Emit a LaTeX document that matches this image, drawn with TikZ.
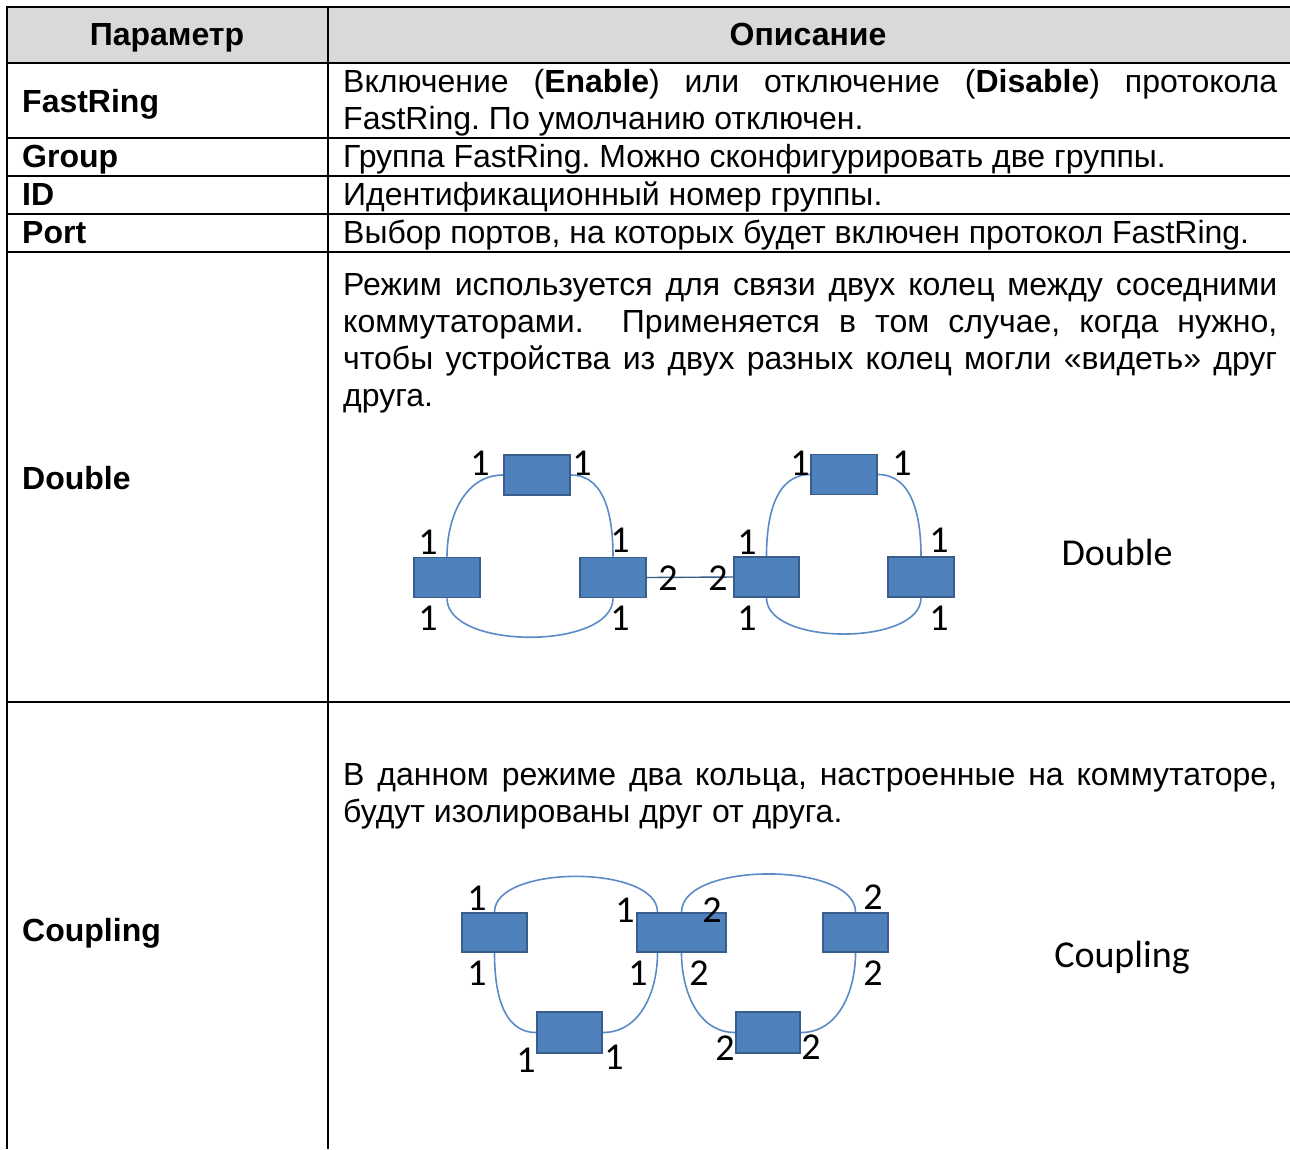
\documentclass[tikz,border=0pt]{standalone}
\usepackage{fontspec}
\setmainfont{Liberation Sans}
\newfontfamily\calibrifont{Carlito}
\usepackage{xcolor}
\definecolor{colorHead}{HTML}{D9D9D9}
\definecolor{colorBoxFill}{HTML}{4F81BD}
\definecolor{colorBoxLine}{HTML}{385D8A}
\definecolor{colorLink}{HTML}{5B8BC6}
\usepackage{tikz}
\hyphenpenalty=10000
\frenchspacing

\begin{document}
\begin{tikzpicture}[x=1pt, y=-1pt,
  rule/.style={line width=1.8pt, black},
  cell/.style={inner sep=0pt, anchor=base west, font=\fontsize{32}{37}\selectfont},
  param/.style={cell, font=\fontsize{32}{37}\selectfont\bfseries},
  desc/.style={cell, text width=934pt, align=justify},
  switch/.style={draw=colorBoxLine, fill=colorBoxFill, line width=1.8pt, minimum width=#1, minimum height=40pt, inner sep=0pt},
  switch/.default=66pt,
  link/.style={draw=colorLink, line width=1.6pt},
  port/.style={inner sep=0pt, font=\calibrifont\fontsize{38}{38}\selectfont},
  mode/.style={inner sep=0pt, anchor=base, font=\calibrifont\fontsize{38}{38}\selectfont}]
\useasboundingbox (0,0) rectangle (1290,1149);
% table frame
\fill[colorHead] (7,7) rectangle (1290,63);
\draw[rule] (7,1149) -- (7,7) -- (1290,7);
\draw[rule] (328,7) -- (328,1149);
\foreach \y in {63,138,176,214,252,702}
  \draw[rule] (7,\y) -- (1290,\y);
% header
\node[param, anchor=base] (h1) at (167,45) {Параметр};
\node[param, anchor=base] (h2) at (808,45) {Описание};
% parameter names
\node[param] (pFast) at (22,112) {FastRing};
\node[param] (pGroup) at (22,167) {Group};
\node[param] (pId) at (22,205) {ID};
\node[param] (pPort) at (22,243) {Port};
\node[param] (pDouble) at (22,489) {Double};
\node[param] (pCoupling) at (22,941) {Coupling};
% descriptions
\node[desc] (dFast) at (343,92) {Включение (\textbf{Enable}) или отключение (\textbf{Disable}) протокола\linebreak FastRing. По умолчанию отключен.};
\node[cell] (dGroup) at (343,167) {Группа FastRing. Можно сконфигурировать две группы.};
\node[cell] (dId) at (343,205) {Идентификационный номер группы.};
\node[cell] (dPort) at (343,243) {Выбор портов, на которых будет включен протокол FastRing.};
\node[desc] (dDouble) at (343,295) {Режим используется для связи двух колец между соседними\linebreak коммутаторами.\ \ Применяется в том случае, когда нужно,\linebreak чтобы устройства из двух разных колец могли «видеть» друг\linebreak друга.};
\node[desc] (dCoupling) at (343,785) {В данном режиме два кольца, настроенные на коммутаторе,\linebreak будут изолированы друг от друга.};

% Double: two rings joined by one link
\node[switch] (d1) at (537,475) {};
\node[switch] (d2) at (447,577.5) {};
\node[switch] (d3) at (613,577.5) {};
\node[switch, minimum width=65pt] (d4) at (766.5,577) {};
\node[switch] (d5) at (844,474.5) {};
\node[switch] (d6) at (921,577) {};
\draw[link] (d1.west) to[out=180, in=90] (d2.north);
\draw[link] (d1.east) to[out=0, in=90] (d3.north);
\draw[link] (d2.south) to[out=-90, in=-90, looseness=0.8] (d3.south);
\draw[draw=colorBoxLine, line width=1.4pt] (d3.east) -- (d4.west);
\draw[link] (d5.west) to[out=180, in=90] (d4.north);
\draw[link] (d5.east) to[out=0, in=90] (d6.north);
\draw[link] (d4.south) to[out=-90, in=-90, looseness=0.8] (d6.south);
\node[port] at (480,463) {1};
\node[port] at (582,463) {1};
\node[port] at (428,542) {1};
\node[port] at (428,618) {1};
\node[port] at (620,540) {1};
\node[port] at (620,618) {1};
\node[port] at (668,578) {2};
\node[port] at (718,578) {2};
\node[port] at (747,542) {1};
\node[port] at (747,618) {1};
\node[port] at (800,463) {1};
\node[port] at (902,463) {1};
\node[port] at (939,540) {1};
\node[port] at (939,618) {1};
\node[mode] (mDouble) at (1117,565) {Double};

% Coupling: two rings on one switch
\node[switch, minimum width=65pt, minimum height=39pt] (c1) at (494.5,932.5) {};
\node[switch, minimum width=89pt, minimum height=39pt] (c2) at (681.5,932.5) {};
\node[switch, minimum width=65pt, minimum height=39pt] (c3) at (855.5,932.5) {};
\node[switch, minimum width=65pt, minimum height=41pt] (c4) at (569.5,1032.5) {};
\node[switch, minimum width=64pt, minimum height=41pt] (c5) at (768,1032.5) {};
\draw[link] (c1.north) to[out=90, in=90, looseness=0.75] ([xshift=-24pt]c2.north);
\draw[link] (c2.north) to[out=90, in=90, looseness=0.75] (c3.north);
\draw[link] (c1.south) to[out=-90, in=180] (c4.west);
\draw[link] ([xshift=-24pt]c2.south) to[out=-90, in=0] (c4.east);
\draw[link] (c2.south) to[out=-90, in=180] (c5.west);
\draw[link] (c3.south) to[out=-90, in=0] (c5.east);
\node[port] at (477,898) {1};
\node[port] at (477,973) {1};
\node[port] at (625,910) {1};
\node[port] at (712,910) {2};
\node[port] at (638,973) {1};
\node[port] at (699,973) {2};
\node[port] at (873,897) {2};
\node[port] at (873,973) {2};
\node[port] at (526,1060) {1};
\node[port] at (614,1057) {1};
\node[port] at (725,1048) {2};
\node[port] at (811,1047) {2};
\node[mode] (mCoupling) at (1122,967) {Coupling};
\end{tikzpicture}
\end{document}
